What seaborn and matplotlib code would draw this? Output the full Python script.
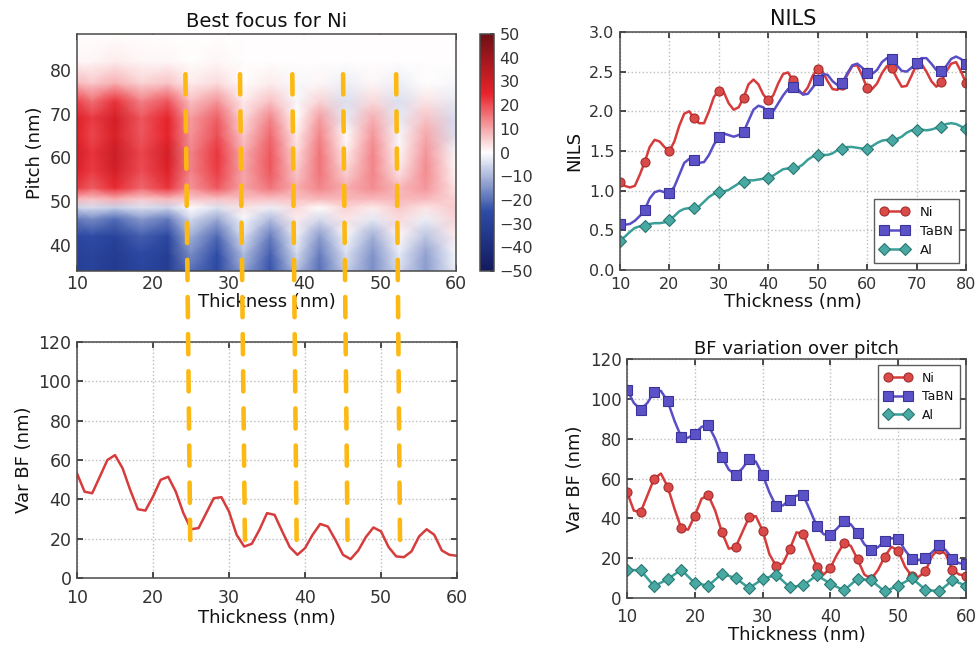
import matplotlib
matplotlib.use("Agg")
import matplotlib.pyplot as plt
import numpy as np
import seaborn as sns
from matplotlib.colors import LinearSegmentedColormap
from matplotlib.patches import ConnectionPatch

# ---- best focus map (Ni): thickness nodes x pitch rows, values in nm ----
map_thickness = [10, 12, 15, 18.5, 22, 25, 28.5, 32, 35.5, 39, 42, 45.5, 49, 52.5, 56, 60]
map_pitch = [34, 38, 42, 46, 48.5, 50.5, 53, 57, 61, 65, 69, 73, 77, 82, 88]
best_focus_ni = [
    [-31, -29, -33, -28, -32, -20, -27, -13, -24, -9, -20, -7, -16, -5, -14, -2],
    [-30, -28, -32, -26, -31, -16, -25, -9, -22, -5, -18, -4, -15, -3, -13, -1],
    [-27, -25, -29, -22, -27, -11, -21, -4, -18, -2, -14, -1, -11, 1, -8, 2],
    [-18, -16, -20, -14, -18, -5, -12, -1, -9, 2, -5, 3, -3, 4, -2, 5],
    [-6, -5, -7, -4, -6, 0, -4, 3, -2, 4, 0, 5, 2, 6, 3, 6],
    [8, 7, 9, 6, 8, 6, 7, 7, 7, 7, 8, 8, 8, 8, 8, 5],
    [22, 18, 24, 17, 23, 12, 19, 10, 16, 9, 14, 9, 13, 8, 12, 3],
    [27, 22, 29, 20, 27, 14, 22, 10, 19, 6, 16, 5, 14, 3, 13, 1],
    [29, 23, 31, 21, 29, 14, 23, 9, 19, 4, 16, 2, 14, 1, 12, -1],
    [26, 21, 28, 19, 25, 12, 20, 6, 17, 2, 14, 0, 12, -1, 10, -4],
    [27, 22, 29, 19, 25, 11, 18, 4, 14, 0, 11, -3, 9, -3, 7, -5],
    [21, 16, 23, 14, 19, 7, 12, 2, 7, -1, 5, -4, 4, -4, 3, -3],
    [8, 6, 9, 5, 7, 2, 4, 0, 2, -1, 1, -2, 1, -2, 0, -1],
    [1, 1, 2, 1, 1, 0, 1, 0, 0, 0, 0, 0, 0, 0, 0, 0],
    [0, 0, 0, 0, 0, 0, 0, 0, 0, 0, 0, 0, 0, 0, 0, 0],
]

# troughs marked by the dashed guides (top end, bottom end)
guide_top = [24.3, 31.5, 38.4, 45.1, 52.1]
guide_bottom = [24.9, 32.1, 38.9, 45.6, 52.5]

# ---- NILS vs thickness (10..80 nm, 1 nm step) ----
nils_thickness = list(range(10, 81))
nils_ni = [
    1.11, 1.06, 1.04, 1.06, 1.20, 1.36, 1.55, 1.64, 1.62, 1.55,
    1.50, 1.62, 1.82, 1.97, 2.00, 1.91, 1.85, 1.85, 2.00, 2.18,
    2.26, 2.24, 2.10, 2.02, 2.05, 2.17, 2.34, 2.40, 2.34, 2.21,
    2.14, 2.20, 2.35, 2.47, 2.49, 2.39, 2.25, 2.22, 2.30, 2.45,
    2.53, 2.50, 2.38, 2.28, 2.27, 2.33, 2.46, 2.57, 2.58, 2.45,
    2.29, 2.28, 2.35, 2.48, 2.57, 2.54, 2.42, 2.31, 2.32, 2.45,
    2.59, 2.60, 2.50, 2.38, 2.31, 2.37, 2.50, 2.60, 2.62, 2.50,
    2.36,
]
nils_tabn = [
    0.58, 0.57, 0.58, 0.62, 0.68, 0.76, 0.90, 0.98, 1.00, 0.98,
    0.97, 1.05, 1.20, 1.35, 1.40, 1.385, 1.35, 1.36, 1.45, 1.58,
    1.67, 1.72, 1.70, 1.68, 1.70, 1.74, 1.88, 2.02, 2.07, 2.05,
    1.98, 2.00, 2.10, 2.20, 2.28, 2.30, 2.28, 2.21, 2.22, 2.30,
    2.39, 2.47, 2.46, 2.38, 2.33, 2.36, 2.48, 2.58, 2.60, 2.55,
    2.48, 2.47, 2.52, 2.62, 2.67, 2.66, 2.58, 2.51, 2.50, 2.55,
    2.61, 2.67, 2.67, 2.60, 2.52, 2.51, 2.57, 2.66, 2.69, 2.66,
    2.59,
]
nils_al = [
    0.37, 0.42, 0.48, 0.53, 0.55, 0.56, 0.58, 0.59, 0.59, 0.60,
    0.63, 0.68, 0.74, 0.77, 0.78, 0.78, 0.80, 0.86, 0.92, 0.96,
    0.98, 0.99, 1.01, 1.05, 1.09, 1.11, 1.13, 1.13, 1.14, 1.15,
    1.16, 1.19, 1.23, 1.27, 1.28, 1.28, 1.29, 1.33, 1.39, 1.43,
    1.45, 1.45, 1.45, 1.47, 1.51, 1.53, 1.55, 1.55, 1.54, 1.53,
    1.53, 1.56, 1.60, 1.63, 1.64, 1.64, 1.65, 1.68, 1.73, 1.76,
    1.77, 1.77, 1.76, 1.77, 1.79, 1.80, 1.84, 1.85, 1.84, 1.81,
    1.78,
]

# ---- variation of best focus over pitch (10..60 nm) ----
bf_thickness = list(range(10, 61))
var_bf_ni = [
    53.2, 43.9, 43.1, 51.5, 60.0, 62.5, 55.8, 44.8, 35.0, 34.3,
    41.4, 49.9, 51.5, 43.9, 33.0, 24.8, 25.4, 33.0, 40.6, 41.1,
    33.8, 22.0, 16.0, 17.4, 24.5, 33.0, 32.1, 23.7, 15.7, 11.8,
    15.2, 22.0, 27.5, 26.2, 19.4, 11.8, 9.6, 14.0, 20.8, 25.7,
    23.7, 15.7, 11.0, 10.6, 13.5, 21.1, 24.8, 22.0, 14.0, 11.8,
    11.3,
]
var_bf_tabn = [
    104.6, 98.0, 94.6, 98.0, 103.4, 104.0, 98.7, 89.0, 80.8, 80.5,
    82.5, 86.0, 86.7, 80.0, 70.8, 64.5, 61.9, 65.0, 69.8, 68.5,
    61.9, 53.0, 46.0, 46.5, 49.4, 51.5, 51.5, 44.0, 36.0, 32.0,
    31.8, 35.0, 38.8, 37.0, 32.6, 27.0, 23.9, 25.5, 28.5, 30.0,
    29.6, 24.0, 19.6, 19.0, 20.1, 23.0, 26.4, 24.0, 19.6, 17.5,
    17.1,
]
al_thickness = list(range(10, 61, 2))
var_bf_al = [
    14.2, 13.9, 5.9, 9.5, 14.2, 7.5, 6.2, 12.2, 10.0, 5.0,
    9.5, 11.7, 5.4, 6.4, 11.4, 7.2, 3.8, 9.7, 8.9, 3.3,
    6.2, 10.0, 4.2, 3.3, 8.9, 6.2,
]

NI = dict(color="#d63c3c", mfc="#d94a48", mec="#a52c2c")
TABN = dict(color="#5a4ec6", mfc="#5b52c8", mec="#3d3499")
AL = dict(color="#3a9f98", mfc="#48a9a2", mec="#2a7772")
GUIDE = "#fdb913"


def setup_style() -> None:
    sns.set_theme(style="white", rc={
        "axes.edgecolor": "#4a4a4a",
        "axes.linewidth": 1.1,
        "xtick.direction": "in",
        "ytick.direction": "in",
        "xtick.top": True,
        "ytick.right": True,
        "xtick.bottom": True,
        "ytick.left": True,
        "xtick.major.size": 4,
        "ytick.major.size": 4,
        "xtick.major.pad": 5,
        "ytick.major.pad": 4,
        "xtick.color": "#333333",
        "ytick.color": "#333333",
        "grid.color": "#bdbdbd",
        "grid.linestyle": ":",
        "grid.linewidth": 1.0,
        "text.color": "#111111",
        "axes.labelcolor": "#111111",
    })
    plt.rcParams["font.family"] = ["DejaVu Sans"]


def series(ax, x, y, style, marker, label, every=1, ms=6.5):
    sns.lineplot(x=x, y=y, ax=ax, color=style["color"], lw=1.8, marker=marker,
                 markevery=every, markersize=ms, markerfacecolor=style["mfc"],
                 markeredgecolor=style["mec"], markeredgewidth=0.8, label=label)


def legend(ax, loc, size):
    leg = ax.legend(loc=loc, numpoints=2, fontsize=size, frameon=True, fancybox=False,
                    handlelength=2.2, borderpad=0.5, labelspacing=0.45)
    leg.get_frame().set_edgecolor("#333333")
    leg.get_frame().set_linewidth(1.0)


def main() -> None:
    setup_style()
    fig = plt.figure(figsize=(9.77, 6.51), dpi=100)

    # best focus map
    ax_map = fig.add_axes([0.0788, 0.5837, 0.388, 0.364])
    cmap = LinearSegmentedColormap.from_list(
        "bf", ["#121a5e", "#2d4ba6", "#ffffff", "#e8222b", "#6e1014"])
    mesh = ax_map.pcolormesh(map_thickness, map_pitch, np.array(best_focus_ni),
                             shading="gouraud", cmap=cmap, vmin=-50, vmax=50)
    ax_map.set_xlim(10, 60)
    ax_map.set_ylim(34, 88.2)
    ax_map.set_xticks(range(10, 61, 10))
    ax_map.set_yticks(range(40, 81, 10))
    ax_map.tick_params(labelsize=12.5)
    ax_map.tick_params(axis="x", pad=3)
    ax_map.set_title("Best focus for Ni", fontsize=14, pad=5)
    ax_map.set_xlabel("Thickness (nm)", fontsize=13, labelpad=0)
    ax_map.set_ylabel("Pitch (nm)", fontsize=13)

    cax = fig.add_axes([0.4913, 0.5837, 0.0143, 0.364])
    cb = fig.colorbar(mesh, cax=cax, ticks=range(-50, 51, 10))
    cb.ax.tick_params(labelsize=11.5, direction="in", length=3)
    cb.outline.set_edgecolor("#4a4a4a")

    # var BF for Ni
    ax_bf = fig.add_axes([0.0788, 0.1121, 0.389, 0.3625])
    sns.lineplot(x=bf_thickness, y=var_bf_ni, ax=ax_bf, color=NI["color"], lw=1.8)
    ax_bf.set_xlim(10, 60)
    ax_bf.set_ylim(0, 120)
    ax_bf.set_xticks(range(10, 61, 10))
    ax_bf.set_yticks(range(0, 121, 20))
    ax_bf.grid(True)
    ax_bf.tick_params(labelsize=12.5)
    ax_bf.tick_params(axis="x", pad=8)
    ax_bf.set_xlabel("Thickness (nm)", fontsize=13, labelpad=1)
    ax_bf.set_ylabel("Var BF (nm)", fontsize=13)

    # NILS
    ax_nils = fig.add_axes([0.6346, 0.5853, 0.3541, 0.3656])
    series(ax_nils, nils_thickness, nils_ni, NI, "o", "Ni", every=5)
    series(ax_nils, nils_thickness, nils_tabn, TABN, "s", "TaBN", every=5)
    series(ax_nils, nils_thickness, nils_al, AL, "D", "Al", every=5, ms=6)
    ax_nils.set_xlim(10, 80)
    ax_nils.set_ylim(0, 3)
    ax_nils.set_xticks(range(10, 81, 10))
    ax_nils.set_yticks(np.arange(0, 3.01, 0.5))
    ax_nils.grid(True)
    ax_nils.tick_params(labelsize=11.5)
    ax_nils.set_title("NILS", fontsize=15, pad=5)
    ax_nils.set_xlabel("Thickness (nm)", fontsize=13, labelpad=1)
    ax_nils.set_ylabel("NILS", fontsize=13)
    legend(ax_nils, "lower right", 9.5)

    # BF variation over pitch
    ax_var = fig.add_axes([0.6418, 0.0814, 0.347, 0.367])
    series(ax_var, bf_thickness, var_bf_ni, NI, "o", "Ni", every=2)
    series(ax_var, bf_thickness, var_bf_tabn, TABN, "s", "TaBN", every=2)
    series(ax_var, al_thickness, var_bf_al, AL, "D", "Al", every=1, ms=6)
    ax_var.set_xlim(10, 60)
    ax_var.set_ylim(0, 120)
    ax_var.set_xticks(range(10, 61, 10))
    ax_var.set_yticks(range(0, 121, 20))
    ax_var.grid(True)
    ax_var.tick_params(labelsize=12)
    ax_var.tick_params(axis="x", pad=7)
    ax_var.set_title("BF variation over pitch", fontsize=13, pad=4)
    ax_var.set_xlabel("Thickness (nm)", fontsize=13, labelpad=0)
    ax_var.set_ylabel("Var BF (nm)", fontsize=13)
    legend(ax_var, "upper right", 9)

    # dashed guides running from the map down into the Var BF panel
    for t_top, t_bot in zip(guide_top, guide_bottom):
        con = ConnectionPatch(xyA=(t_top, 79), coordsA=ax_map.transData,
                              xyB=(t_bot, 17), coordsB=ax_bf.transData,
                              color=GUIDE, lw=3.3, linestyle=(0, (4.4, 3.7)), zorder=5)
        fig.add_artist(con)

    fig.savefig("out.png", dpi=100, facecolor="white")
    plt.close(fig)


if __name__ == "__main__":
    main()
